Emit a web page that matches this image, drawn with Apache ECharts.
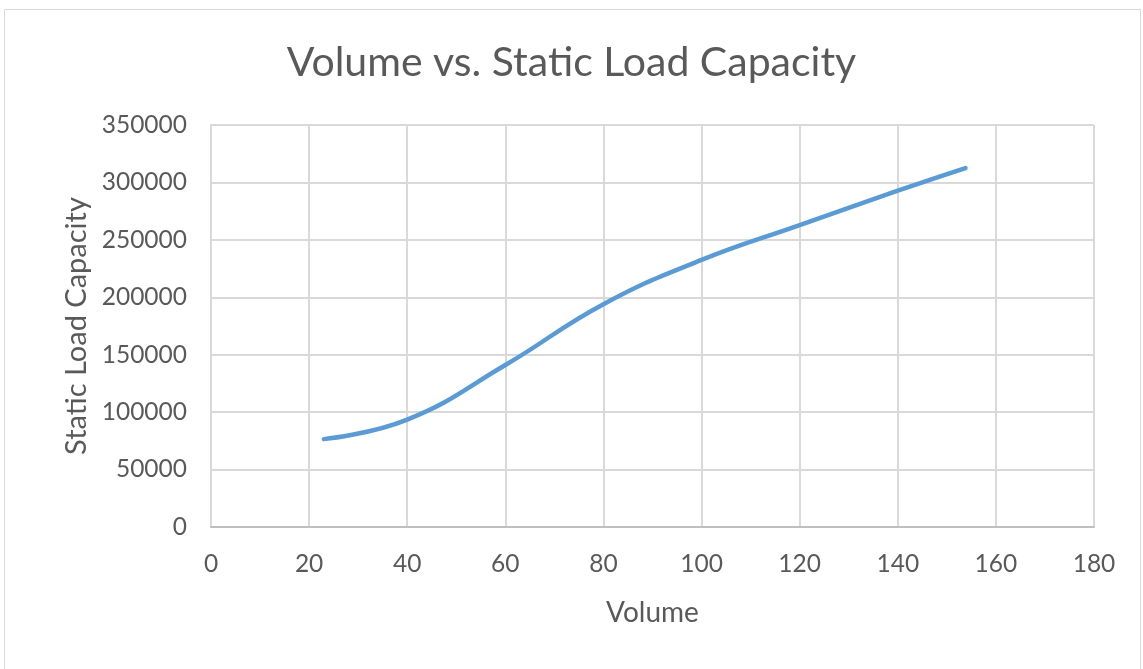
<!DOCTYPE html>
<html>
<head>
<meta charset="utf-8">
<script src="https://cdn.jsdelivr.net/npm/echarts@6/dist/echarts.min.js"></script>
<style>
  html, body { margin: 0; padding: 0; background: #ffffff; }
  #chart { width: 1143px; height: 669px; }
</style>
</head>
<body>
<div id="chart"></div>
<script>
// Volume against static load capacity
const volumes = [23, 40, 60, 80, 100, 120, 140, 153.8];
const loadCapacity = [76500, 93500, 141000, 194000, 232500, 262800, 292800, 312500];
const titleText = 'Volume vs. Static Load Capacity';
const xName = 'Volume';
const yName = 'Static Load Capacity';

const points = volumes.map((v, i) => [v, loadCapacity[i]]);

const chart = echarts.init(document.getElementById('chart'), null, { renderer: 'canvas' });
const textColor = '#595959';
const fontFamily = 'Lato, "Open Sans", sans-serif';

chart.setOption({
  backgroundColor: '#ffffff',
  animation: false,
  graphic: [{
    type: 'rect',
    shape: { x: 4.5, y: 9.5, width: 1136, height: 680 },
    style: { fill: 'none', stroke: '#d9d9d9', lineWidth: 1 },
    silent: true
  }],
  title: {
    text: titleText,
    left: 'center',
    top: 37,
    textStyle: { color: textColor, fontSize: 41, fontWeight: 'normal', fontFamily: fontFamily }
  },
  grid: { left: 211, right: 49, top: 125, bottom: 142 },
  xAxis: {
    type: 'value',
    min: 0, max: 180, interval: 20,
    name: xName,
    nameLocation: 'middle',
    nameGap: 72,
    nameTextStyle: { color: textColor, fontSize: 28, fontFamily: fontFamily },
    axisLine: { show: true, lineStyle: { color: '#bfbfbf', width: 2 } },
    axisTick: { show: false },
    axisLabel: { color: textColor, fontSize: 24.5, margin: 25, fontFamily: fontFamily },
    splitLine: { show: true, lineStyle: { color: '#d9d9d9', width: 2 } }
  },
  yAxis: {
    type: 'value',
    min: 0, max: 350000, interval: 50000,
    name: yName,
    nameLocation: 'middle',
    nameGap: 120,
    nameTextStyle: { color: textColor, fontSize: 29, fontFamily: fontFamily },
    axisLine: { show: true, lineStyle: { color: '#d9d9d9', width: 2 } },
    axisTick: { show: false },
    axisLabel: {
      color: textColor, fontSize: 24.5, margin: 24, fontFamily: fontFamily,
      formatter: (v) => String(v)
    },
    splitLine: { show: true, lineStyle: { color: '#d9d9d9', width: 2 } }
  },
  series: [{
    type: 'line',
    data: points,
    smooth: 0.45,
    showSymbol: false,
    lineStyle: { color: '#5b9bd5', width: 4.5, cap: 'round' },
    itemStyle: { color: '#5b9bd5' }
  }]
});
</script>
</body>
</html>
